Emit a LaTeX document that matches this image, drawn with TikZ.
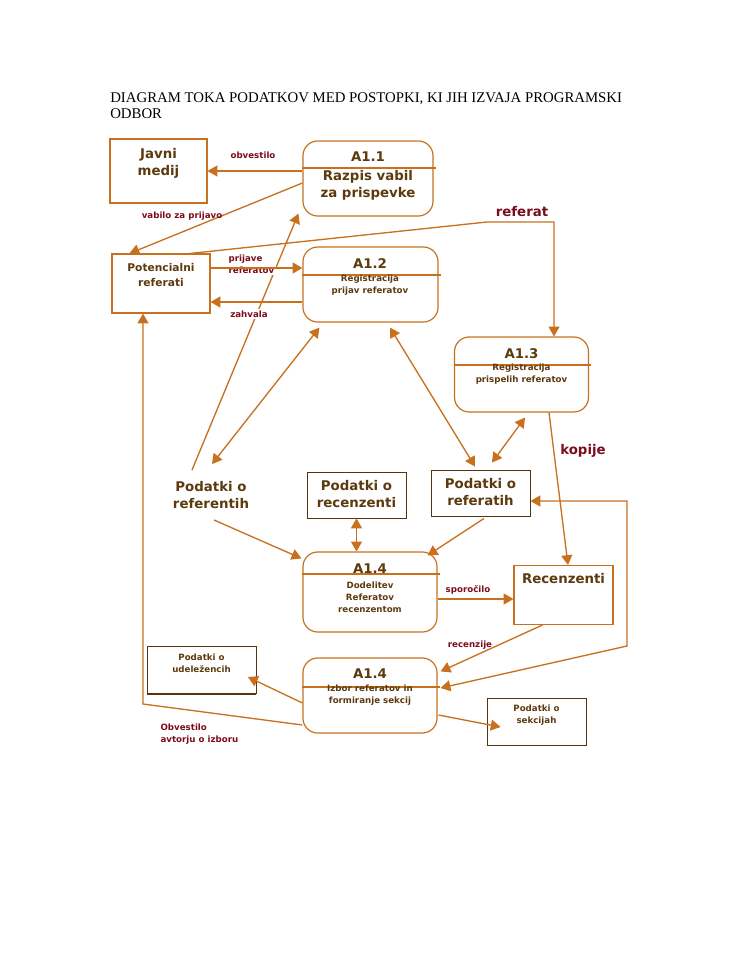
\documentclass[tikz,border=0pt]{standalone}
\usepackage{fontspec}
\setmainfont{DejaVu Sans}
\newfontfamily\titlefont{Liberation Serif}
\usepackage{tikz}
\usetikzlibrary{arrows}
\usetikzlibrary{calc}
\definecolor{flowcol}{RGB}{200,112,30}
\definecolor{txtcol}{RGB}{92,58,14}
\definecolor{lblcol}{RGB}{122,12,28}
\definecolor{storecol}{RGB}{84,52,14}

\begin{document}
\begin{tikzpicture}[x=0.75pt,y=-0.75pt,
    flow/.style={draw=flowcol,line width=1pt,-triangle 60},
    biflow/.style={draw=flowcol,line width=1pt,triangle 60-triangle 60},
    process/.style={draw=flowcol,line width=0.9pt,rounded corners=11pt,minimum width=100.5pt,minimum height=56.25pt},
    divider/.style={draw=flowcol,line width=0.9pt},
    extbox/.style={draw=flowcol,line width=0.8pt},
    store/.style={draw=storecol,line width=0.7pt},
    bigtxt/.style={text=txtcol,font=\fontsize{10}{12.75}\selectfont\bfseries,align=center,inner sep=0pt},
    midtxt/.style={text=txtcol,font=\fontsize{8}{11.75}\selectfont\bfseries,align=center,inner sep=0pt},
    smalltxt/.style={text=txtcol,font=\fontsize{6.5}{9}\selectfont\bfseries,align=center,inner sep=0pt},
    flowlbl/.style={text=lblcol,font=\fontsize{6.5}{9}\selectfont\bfseries,inner sep=1pt},
    biglbl/.style={text=lblcol,font=\fontsize{10}{12}\selectfont\bfseries,inner sep=0pt}]
  \useasboundingbox (0,0) rectangle (750,971);
  % title
  \node[anchor=north west,inner sep=0pt,align=left,font=\titlefont\fontsize{11.1}{12}\selectfont] (title) at (110,92)
    {DIAGRAM TOKA PODATKOV MED POSTOPKI, KI JIH IZVAJA PROGRAMSKI\\ODBOR};
  % Javni medij
  \node[extbox,minimum width=72.75pt,minimum height=48pt] (javni) at (158.5,171) {};
  \node[bigtxt] (javniTxt) at (158.5,163) {Javni\\medij};
  % A1.1
  \node[process,minimum width=97.5pt] (razpis) at (368,178.5) {};
  \draw[divider] (razpis.west |- 0,168) -- ($(razpis.east |- 0,168)+(2,0)$);
  \node[bigtxt] (razpisId) at (368,157) {A1.1};
  \node[bigtxt] (razpisTxt) at (368,185) {Razpis vabil\\za prispevke};
  % Potencialni referati
  \node[extbox,minimum width=73.5pt,minimum height=44.25pt] (potenc) at (161,283.5) {};
  \node[midtxt] (potencTxt) at (161,275) {Potencialni\\referati};
  % A1.2
  \node[process,minimum width=101.25pt] (prijav) at (370.5,284.5) {};
  \draw[divider] (prijav.west |- 0,275) -- ($(prijav.east |- 0,275)+(2,0)$);
  \node[bigtxt] (prijavId) at (370,264) {A1.2};
  \node[smalltxt] (prijavTxt) at (370,285) {Registracija\\prijav referatov};
  % A1.3
  \node[process] (prisp) at (521.5,374.5) {};
  \draw[divider] (prisp.west |- 0,365) -- ($(prisp.east |- 0,365)+(2,0)$);
  \node[bigtxt] (prispId) at (521.5,354) {A1.3};
  \node[smalltxt] (prispTxt) at (521.5,374) {Registracija\\prispelih referatov};
  % Podatki o referentih
  \node[bigtxt] (refent) at (211,495) {Podatki o\\referentih};
  % Podatki o recenzenti
  \node[store,minimum width=74.25pt,minimum height=34.5pt] (rec) at (356.5,495) {};
  \node[bigtxt] (recTxt) at (356.5,494) {Podatki o\\recenzenti};
  % Podatki o referatih
  \node[store,minimum width=74.25pt,minimum height=34.5pt] (referat) at (480.5,493) {};
  \node[bigtxt] (referatTxt) at (480.5,492) {Podatki o\\referatih};
  % A1.4 dodelitev
  \node[process,minimum height=60pt] (dodel) at (370,592) {};
  \draw[divider] (dodel.west |- 0,574) -- ($(dodel.east |- 0,574)+(2,0)$);
  \node[bigtxt] (dodelId) at (370,569) {A1.4};
  \node[smalltxt] (dodelTxt) at (370,597) {Dodelitev\\Referatov\\recenzentom};
  % Recenzenti
  \node[extbox,minimum width=74.25pt,minimum height=44.25pt] (recext) at (563.5,595) {};
  \node[bigtxt] (recextTxt) at (563.5,579) {Recenzenti};
  % A1.4 izbor
  \node[process] (izbor) at (370,695.5) {};
  \draw[divider] (izbor.west |- 0,687) -- ($(izbor.east |- 0,687)+(2,0)$);
  \node[bigtxt] (izborId) at (370,674) {A1.4};
  \node[smalltxt] (izborTxt) at (370,695) {Izbor referatov in\\formiranje sekcij};
  % Podatki o udelezencih
  \node[store,minimum width=81.75pt,minimum height=35.25pt] (udel) at (201.5,670) {};
  \draw[storecol,line width=1.4pt] (udel.south west) -- (udel.south east);
  \node[smalltxt] (udelTxt) at (201.5,663) {Podatki o\\udeležencih};
  % Podatki o sekcijah
  \node[store,minimum width=74.25pt,minimum height=35.25pt] (sekc) at (536.5,722) {};
  \node[smalltxt] (sekcTxt) at (536.5,715) {Podatki o\\sekcijah};

  % flows around A1.1
  \draw[flow] (razpis.west |- javni.east) -- (javni.east);
  \node[flowlbl] (obvLbl) at (253,155) {obvestilo};
  \draw[flow] ($(razpis.west)+(0,4.5)$) -- ($(potenc.north west)+(18,0)$);
  \node[flowlbl] (vabLbl) at (182,216) {vabilo za prijavo};
  \draw[flow] ($(refent.center)+(-19,-25)$) -- ($(razpis.south west)+(-4,-3)$);
  % flows around A1.2
  \node[flowlbl,fill=white,anchor=west,align=left] (prijLbl) at (227,264) {prijave\\referatov};
  \draw[flow] (potenc.east |- 0,268) -- (prijav.west |- 0,268);
  \draw[flow] (prijav.west |- 0,302) -- (potenc.east |- 0,302);
  \node[flowlbl,fill=white] (zahLbl) at (249,314) {zahvala};
  % referat
  \draw[flow] ($(potenc.north)+(29,0)$) -- (487,222) -| ($(prisp.north)+(32.5,0)$);
  \node[biglbl] (referatLbl) at (522,212) {referat};
  % data stores
  \draw[biflow] ($(prijav.south west)+(17,5)$) -- ($(refent.center)+(1,-31)$);
  \draw[biflow] ($(prijav.south)+(19.5,5)$) -- ($(referat.north)+(-5.5,-3)$);
  \draw[biflow] ($(prisp.south)+(3.5,5)$) -- ($(referat.north)+(11.5,-7)$);
  \draw[flow] ($(prisp.south)+(27.5,0)$) -- ($(recext.north)+(4.5,0)$);
  \node[biglbl] (kopLbl) at (583,451) {kopije};
  % flows into A1.4 dodelitev
  \draw[flow] ($(refent.center)+(3,25)$) -- ($(dodel.north west)+(-1,7)$);
  \draw[biflow] (rec.south) -- (rec.south |- dodel.north);
  \draw[flow] ($(referat.south)+(3.5,2)$) -- ($(dodel.north east)+(-10,4)$);
  \draw[flow] (dodel.east |- 0,599) -- (recext.west |- 0,599);
  \node[flowlbl] (sporLbl) at (468,590) {sporočilo};
  % flows around A1.4 izbor
  \draw[flow] ($(recext.south west)+(29,0)$) -- ($(izbor.north east)+(3,14)$);
  \node[flowlbl] (recLbl) at (470,645) {recenzije};
  \draw[biflow] ($(izbor.east)+(3,-7.5)$) -- (627,646) |- (referat.east |- 0,501);
  \draw[flow] ($(izbor.west)+(0,7.5)$) -- ($(udel.east)+(-8.5,7)$);
  \draw[flow] ($(izbor.west)+(0,29.5)$) -- (143,704) -- ($(potenc.south)+(-18,0)$);
  \node[flowlbl,anchor=west,align=left] (obvAvtLbl) at (159,734) {Obvestilo\\avtorju o izboru};
  \draw[flow] ($(izbor.east)+(1,19.5)$) -- ($(sekc.west)+(14,5)$);
\end{tikzpicture}
\end{document}
